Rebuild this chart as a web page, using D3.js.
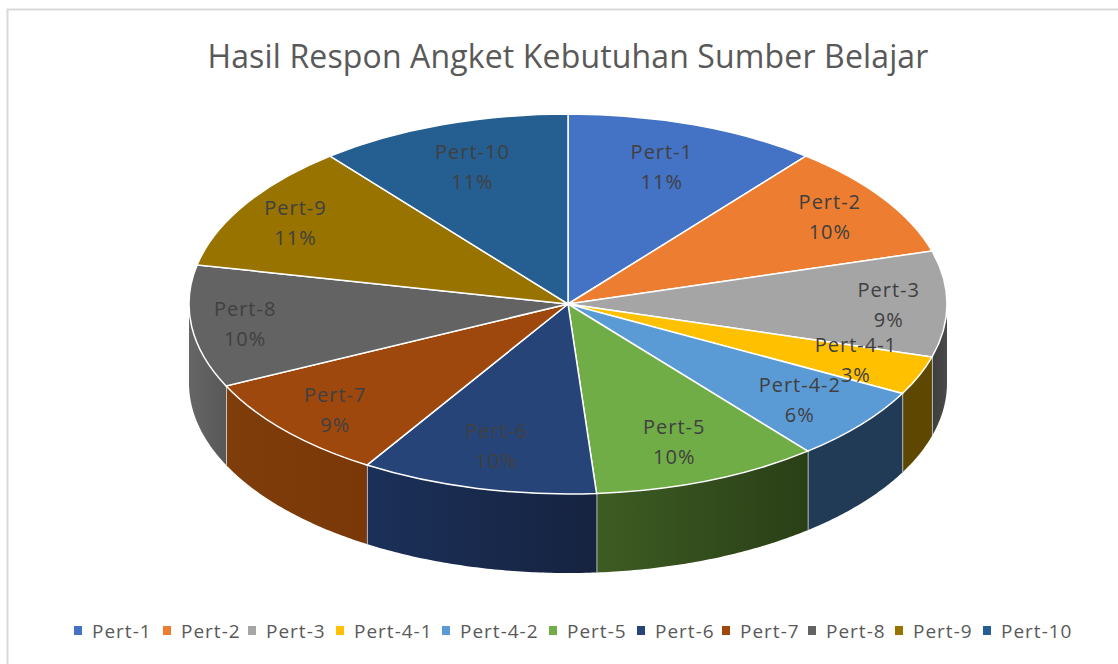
<!DOCTYPE html>
<html>
<head>
<meta charset="utf-8">
<script src="https://cdnjs.cloudflare.com/ajax/libs/d3/7.8.5/d3.min.js"></script>
<style>
html, body { margin: 0; padding: 0; background: #fff; }
svg { display: block; }
text { font-family: "Open Sans", "Noto Sans", sans-serif; }
</style>
</head>
<body>
<div id="chart"></div>
<script>
const categories = ["Pert-1", "Pert-2", "Pert-3", "Pert-4-1", "Pert-4-2", "Pert-5", "Pert-6", "Pert-7", "Pert-8", "Pert-9", "Pert-10"];
const values = [10.8, 9.7, 9.0, 3.3, 6.3, 9.7, 10.1, 9, 10.4, 10.9, 10.8];
const colors = ["#4472c4", "#ed7d31", "#a5a5a5", "#ffc000", "#5b9bd5", "#70ad47", "#264478", "#9e480e", "#636363", "#997300", "#255e91"];
// wall shade at the left and right end of each visible wall
const wallLeft = ["#2c4a80", "#9a5120", "#3d3d3d", "#5e4700", "#213b56", "#3d5c22", "#1b3059", "#7f3d0a", "#666666", "#635a00", "#18406a"];
const wallRight = ["#2c4a80", "#9a5120", "#4a4a4a", "#5e4700", "#213b56", "#2a3f17", "#162340", "#7a3809", "#585858", "#635a00", "#18406a"];

const width = 1118, height = 664;
const cx = 568, cy = 304, rx = 379, ry = 190, depth = 79;

const svg = d3.select("#chart").append("svg")
    .attr("width", width)
    .attr("height", height);

const defs = svg.append("defs");

// Chart border
svg.append("path")
    .attr("d", `M7.5,${height}V9.5H${width}`)
    .attr("fill", "none")
    .attr("stroke", "#d9d9d9")
    .attr("stroke-width", 2);

// Title
svg.append("text")
    .attr("x", 568)
    .attr("y", 68)
    .attr("text-anchor", "middle")
    .style("fill", "#595959")
    .style("font-size", "32px")
    .style("letter-spacing", "0.14px")
    .text("Hasil Respon Angket Kebutuhan Sumber Belajar");

const pie = d3.pie().sort(null).value(d => d);
const slices = pie(values);

// point on the rim of the tilted pie, angle clockwise from the top
const rimX = a => cx + rx * Math.sin(a);
const rimY = a => cy - ry * Math.cos(a);

// Side walls, only the front half of the rim shows
const line = d3.line();
const wallG = svg.append("g");
slices.forEach((s, i) => {
    const start = Math.max(s.startAngle, Math.PI / 2);
    const end = Math.min(s.endAngle, Math.PI * 1.5);
    if (end <= start) return;
    const angles = d3.range(start, end, 0.01).concat([end]);
    const top = angles.map(a => [rimX(a), rimY(a)]);
    const bottom = angles.map(a => [rimX(a), rimY(a) + depth]).reverse();

    const grad = defs.append("linearGradient")
        .attr("id", `wall-${i}`)
        .attr("gradientUnits", "userSpaceOnUse")
        .attr("x1", rimX(end)).attr("x2", rimX(start))
        .attr("y1", 0).attr("y2", 0);
    grad.append("stop").attr("offset", "0%").attr("stop-color", wallLeft[i]);
    grad.append("stop").attr("offset", "100%").attr("stop-color", wallRight[i]);

    wallG.append("path")
        .attr("d", line(top.concat(bottom)) + "Z")
        .attr("fill", `url(#wall-${i})`);
    // white edge where two walls meet
    if (s.endAngle < Math.PI * 1.5) {
        wallG.append("line")
            .attr("x1", rimX(end)).attr("x2", rimX(end))
            .attr("y1", rimY(end)).attr("y2", rimY(end) + depth)
            .attr("stroke", "#e8e8e8")
            .attr("stroke-width", 1.5);
    }
});

// Top face, a normal pie squashed to an ellipse
const arc = d3.arc().innerRadius(0).outerRadius(rx);
svg.append("g")
    .attr("transform", `translate(${cx},${cy}) scale(1,${ry / rx})`)
    .selectAll("path")
    .data(slices)
    .enter()
    .append("path")
    .attr("d", arc)
    .attr("fill", (d, i) => colors[i])
    .attr("stroke", "#fff")
    .attr("stroke-width", 1.5)
    .attr("vector-effect", "non-scaling-stroke");

// Data labels, hand placed along each slice then nudged
const labelRadius = [0.72, 0.83, 0.87, 0.82, 0.72, 0.72, 0.71, 0.71, 0.85, 0.8, 0.71];
const labelDx = [3, 0, -9, 0, 21, 5, -7, -32, -3, -14, -6];
const labelDy = [-9, -1, 0, -4, 8, 10, 10, 15, 0, -3, -11];
const total = d3.sum(values);
const labels = svg.append("g");
slices.forEach((s, i) => {
    const a = (s.startAngle + s.endAngle) / 2;
    const x = cx + rx * labelRadius[i] * Math.sin(a) + labelDx[i];
    const y = cy - ry * labelRadius[i] * Math.cos(a) + labelDy[i];
    const t = labels.append("text")
        .attr("text-anchor", "middle")
        .style("fill", "#404040")
        .style("font-size", "20px")
        .style("letter-spacing", "1px");
    t.append("tspan").attr("x", x).attr("y", y - 7).text(categories[i]);
    t.append("tspan").attr("x", x).attr("y", y + 23).text(Math.round(values[i] / total * 100) + "%");
});

// Legend
const legendX = [74, 163, 248, 336, 442, 549, 637, 722, 808, 895, 983];
const legend = svg.append("g");
categories.forEach((c, i) => {
    legend.append("rect")
        .attr("x", legendX[i])
        .attr("y", 626)
        .attr("width", 8)
        .attr("height", 9)
        .attr("fill", colors[i]);
    legend.append("text")
        .attr("x", legendX[i] + 18)
        .attr("y", 638)
        .style("fill", "#595959")
        .style("font-size", "19px")
        .style("letter-spacing", "1px")
        .text(c);
});
</script>
</body>
</html>
